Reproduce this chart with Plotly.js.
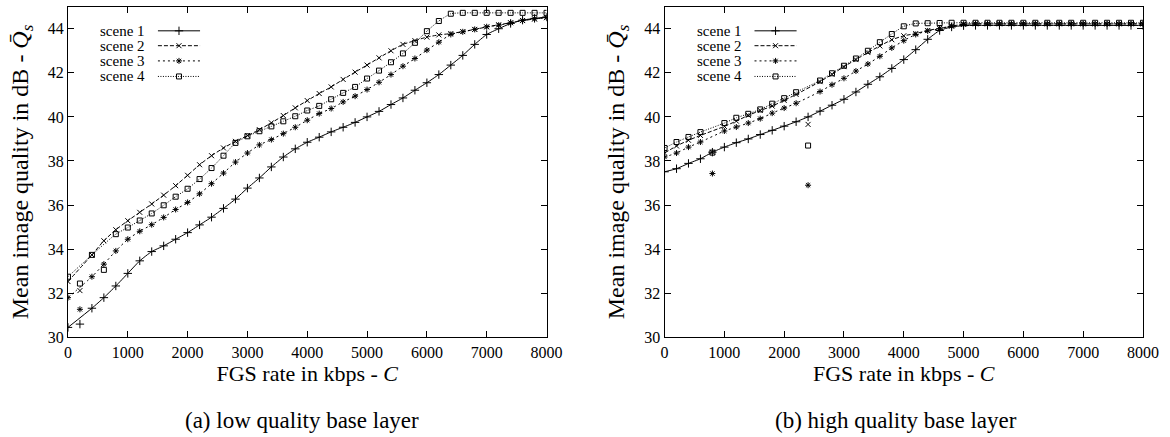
<!DOCTYPE html>
<html>
<head>
<meta charset="utf-8">
<script src="https://cdn.plot.ly/plotly-3.0.1.min.js"></script>
<style>html,body{margin:0;padding:0;background:#fff;}#chart{width:1170px;height:437px;}</style>
</head>
<body>
<div id="chart"></div>
<script>
// ---------- data ----------
const rate = [0,200,400,600,800,1000,1200,1400,1600,1800,2000,2200,2400,2600,2800,3000,3200,3400,3600,3800,4000,
              4200,4400,4600,4800,5000,5200,5400,5600,5800,6000,6200,6400,6600,6800,7000,7200,7400,7600,7800,8000];
const seriesNames = ["scene 1","scene 2","scene 3","scene 4"];
const xTicks = [0,1000,2000,3000,4000,5000,6000,7000,8000];
const yTicks = [30,32,34,36,38,40,42,44];

// (a) low quality base layer
const a_scene1 = [30.45,30.6,31.32,31.8,32.33,32.9,33.47,33.89,34.15,34.45,34.75,35.1,35.45,35.85,36.27,36.77,37.23,37.73,38.18,38.55,38.85,
                  39.08,39.32,39.53,39.75,40.0,40.25,40.56,40.86,41.21,41.55,41.92,42.35,42.79,43.29,43.74,44.0,44.24,44.39,44.47,44.53];
const a_scene2 = [32.53,32.12,33.74,34.38,34.88,35.29,35.67,36.05,36.45,36.88,37.35,37.83,38.24,38.59,38.89,39.15,39.42,39.73,40.06,40.41,40.74,
                  41.06,41.36,41.7,42.03,42.35,42.68,43.0,43.29,43.46,43.62,43.72,43.78,43.87,43.97,44.08,44.18,44.27,44.37,44.44,44.5];
const a_scene3 = [31.8,31.27,32.75,33.32,33.92,34.45,34.81,35.11,35.44,35.8,36.12,36.51,36.97,37.45,37.95,38.36,38.73,38.97,39.24,39.53,39.85,
                  40.15,40.38,40.68,40.94,41.24,41.57,41.92,42.3,42.65,43.03,43.39,43.74,43.86,43.97,44.09,44.16,44.27,44.38,44.45,44.5];
const a_scene4 = [32.75,32.44,33.74,33.06,34.68,34.98,35.3,35.62,35.99,36.38,36.74,37.18,37.68,38.24,38.82,39.12,39.35,39.57,39.8,40.03,40.29,
                  40.5,40.8,41.09,41.36,41.74,42.1,42.48,42.88,43.36,43.89,44.35,44.68,44.72,44.72,44.72,44.72,44.72,44.72,44.72,44.72];
// points that lie off the drawn curve (kbps)
const a_off1 = [200], a_off2 = [200], a_off3 = [200], a_off4 = [200,600];

// (b) high quality base layer
const b_scene1 = [37.51,37.65,37.89,38.1,38.4,38.63,38.83,39.0,39.2,39.39,39.58,39.78,40.0,40.26,40.53,40.8,41.13,41.48,41.82,42.2,42.6,
                  43.05,43.52,43.92,44.08,44.14,44.15,44.15,44.15,44.15,44.15,44.15,44.15,44.15,44.15,44.15,44.15,44.15,44.15,44.15,44.15];
const b_scene2 = [38.36,38.68,38.94,39.16,38.4,39.57,39.81,40.07,40.29,40.49,40.75,41.02,39.66,41.6,41.93,42.28,42.6,42.92,43.22,43.5,43.68,
                  43.78,43.92,44.02,44.12,44.2,44.22,44.22,44.22,44.22,44.22,44.22,44.22,44.22,44.22,44.22,44.22,44.22,44.22,44.22,44.22];
const b_scene3 = [38.18,38.36,38.63,38.86,37.43,39.36,39.54,39.72,39.92,40.17,40.4,40.62,36.9,41.15,41.46,41.75,42.08,42.4,42.75,43.13,43.46,
                  43.74,43.9,44.0,44.12,44.2,44.22,44.22,44.22,44.22,44.22,44.22,44.22,44.22,44.22,44.22,44.22,44.22,44.22,44.22,44.22];
const b_scene4 = [38.59,38.86,39.09,39.31,38.38,39.72,39.96,40.14,40.34,40.6,40.85,41.12,38.7,41.65,41.98,42.32,42.65,43.0,43.39,43.76,44.11,
                  44.24,44.25,44.26,44.27,44.27,44.27,44.27,44.27,44.27,44.27,44.27,44.27,44.27,44.27,44.27,44.27,44.27,44.27,44.27,44.27];
const b_off1 = [], b_off2 = [800,2400], b_off3 = [800,2400], b_off4 = [800,2400];

// ---------- styles ----------
const FONT = "Liberation Serif, Times New Roman, serif";
const styles = [
  {dash: "solid",     symbol: "cross-thin-open", size: 6},
  {dash: "4px,2px",   symbol: "x-thin-open",     size: 5},
  {dash: "2px,3px",   symbol: "asterisk-open",   size: 5},
  {dash: "1px,1.5px", symbol: "square-open",     size: 5}
];

const traces = [];
function addScene(vals, off, k, xa, ya) {
  const st = styles[k];
  const lineY = vals.map((v, i) => off.indexOf(rate[i]) >= 0 ? null : v);
  traces.push({x: rate, y: lineY, xaxis: xa, yaxis: ya, type: "scatter", mode: "lines",
    connectgaps: true, line: {color: "#000", width: 1, dash: st.dash, shape: "spline", smoothing: 0.5},
    hoverinfo: "skip", showlegend: false});
  traces.push({x: rate, y: vals, xaxis: xa, yaxis: ya, type: "scatter", mode: "markers", name: seriesNames[k],
    marker: {symbol: st.symbol, size: st.size, color: "#000", line: {color: "#000", width: 1}},
    showlegend: false});
}
[a_scene1, a_scene2, a_scene3, a_scene4].forEach((v, k) => addScene(v, [a_off1, a_off2, a_off3, a_off4][k], k, "x", "y"));
[b_scene1, b_scene2, b_scene3, b_scene4].forEach((v, k) => addScene(v, [b_off1, b_off2, b_off3, b_off4][k], k, "x2", "y2"));

// key (gnuplot style: label on the left, sample on the right) on hidden unit axes
const keyRows = [0.927, 0.882, 0.836, 0.789];
const annotations = [];
[["x3","y3"],["x4","y4"]].forEach(([xa, ya]) => {
  seriesNames.forEach((nm, k) => {
    const st = styles[k];
    traces.push({x: [0.188, 0.276], y: [keyRows[k], keyRows[k]], xaxis: xa, yaxis: ya, mode: "lines",
      line: {color: "#000", width: 1, dash: st.dash}, hoverinfo: "skip", showlegend: false});
    traces.push({x: [0.232], y: [keyRows[k]], xaxis: xa, yaxis: ya, mode: "markers",
      marker: {symbol: st.symbol, size: st.size, color: "#000", line: {color: "#000", width: 1}},
      hoverinfo: "skip", showlegend: false});
    annotations.push({xref: xa, yref: ya, x: 0.166, y: keyRows[k], text: nm, showarrow: false,
      xanchor: "right", yanchor: "middle", font: {family: FONT, size: 15, color: "#000"}});
  });
});

annotations.push({xref: "paper", yref: "paper", x: 0.2585, y: 0.038, text: "(a) low quality base layer",
  showarrow: false, xanchor: "center", yanchor: "middle", font: {family: FONT, size: 23, color: "#000"}});
annotations.push({xref: "paper", yref: "paper", x: 0.7655, y: 0.038, text: "(b) high quality base layer",
  showarrow: false, xanchor: "center", yanchor: "middle", font: {family: FONT, size: 23, color: "#000"}});

const NB = "\u00a0\u00a0\u00a0\u00a0\u00a0\u00a0";
function xAxis(dom) {
  return {domain: dom, range: [0, 8000], tickvals: xTicks, ticktext: xTicks.map(String),
    ticks: "inside", ticklen: 6, tickcolor: "#000", mirror: "ticks", showline: true, linecolor: "#000", linewidth: 1,
    showgrid: false, zeroline: false, tickfont: {family: FONT, size: 16, color: "#000"},
    title: {text: NB + "FGS rate in kbps - <i>C</i>", font: {family: FONT, size: 22, color: "#000"}, standoff: 3}};
}
function yAxis(anchor) {
  return {domain: [0.2281, 0.9847], anchor: anchor, range: [30, 45], tickvals: yTicks, ticktext: yTicks.map(String),
    ticks: "inside", ticklen: 6, tickcolor: "#000", mirror: "ticks", showline: true, linecolor: "#000", linewidth: 1,
    showgrid: false, zeroline: false, tickfont: {family: FONT, size: 16, color: "#000"},
    title: {text: "Mean image quality in dB - <i>Q\u0304</i><sub><i>s</i></sub>", font: {family: FONT, size: 24, color: "#000"}, standoff: 12}};
}
function hidden(dom, anchor, over) {
  return {domain: dom, range: [0, 1], visible: false, fixedrange: true, anchor: anchor, overlaying: over};
}

const layout = {
  width: 1170, height: 437, margin: {l: 0, r: 0, t: 0, b: 0},
  paper_bgcolor: "#fff", plot_bgcolor: "rgba(0,0,0,0)", showlegend: false,
  font: {family: FONT, color: "#000"},
  xaxis: Object.assign(xAxis([0.0581, 0.4671]), {anchor: "y"}),
  yaxis: yAxis("x"),
  xaxis2: Object.assign(xAxis([0.568, 0.9769]), {anchor: "y2"}),
  yaxis2: yAxis("x2"),
  xaxis3: hidden([0.0581, 0.4671], "y3", "x"),
  yaxis3: hidden([0.2281, 0.9847], "x3", "y"),
  xaxis4: hidden([0.568, 0.9769], "y4", "x2"),
  yaxis4: hidden([0.2281, 0.9847], "x4", "y2"),
  annotations: annotations
};

Plotly.newPlot("chart", traces, layout, {staticPlot: true, displayModeBar: false});
</script>
</body>
</html>
